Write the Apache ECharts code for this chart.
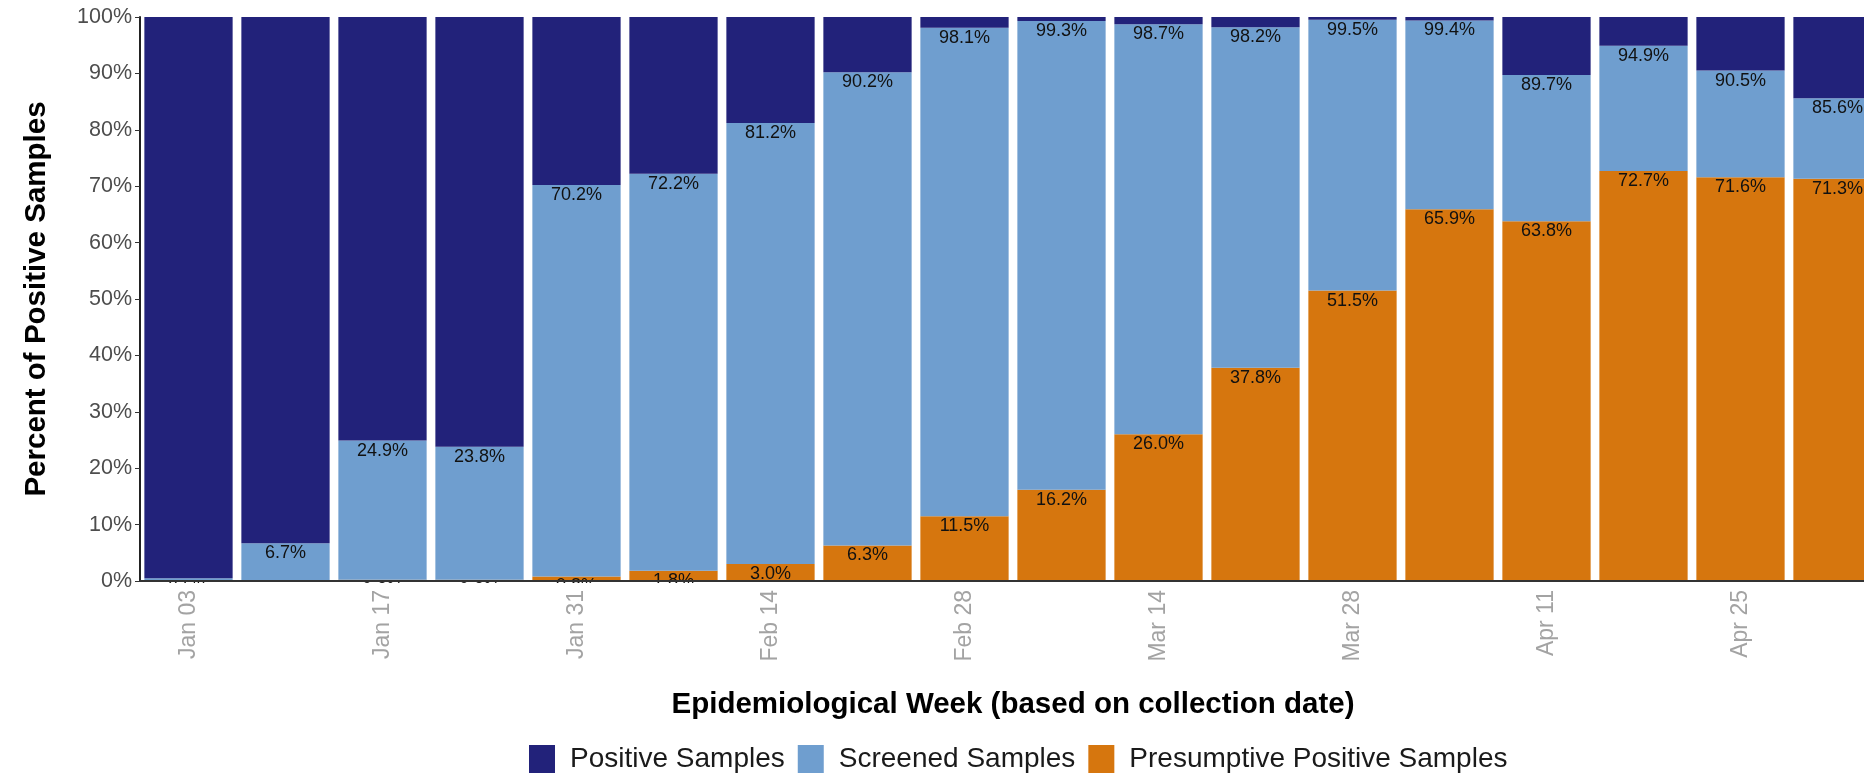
<!DOCTYPE html>
<html>
<head>
<meta charset="utf-8">
<script src="https://cdn.jsdelivr.net/npm/echarts@6/dist/echarts.min.js"></script>
<style>
  html, body { margin: 0; padding: 0; background: #fff; overflow: hidden; }
  /* a bit wider than the window: the last bar is cut off at the right edge in the original */
  #chart { width: 1890px; height: 776px; }
</style>
</head>
<body>
<div id="chart"></div>
<script>
// weekly categories (collection week)
const weeks = ['Jan 03', 'Jan 10', 'Jan 17', 'Jan 24', 'Jan 31', 'Feb 07', 'Feb 14', 'Feb 21', 'Feb 28',
  'Mar 07', 'Mar 14', 'Mar 21', 'Mar 28', 'Apr 04', 'Apr 11', 'Apr 18', 'Apr 25', 'May 02']
// % presumptive positive (bottom segment)
const presumptive = [0, 0, 0.2, 0.2, 0.8, 1.8, 3.0, 6.3, 11.5, 16.2, 26.0, 37.8, 51.5, 65.9, 63.8, 72.7, 71.6, 71.3]
// top of the screened segment = presumptive + screened (this is what the label shows)
const screenedTop = [0.5, 6.7, 24.9, 23.8, 70.2, 72.2, 81.2, 90.2, 98.1, 99.3, 98.7, 98.2, 99.5, 99.4, 89.7, 94.9, 90.5, 85.6]

const seriesNames = ['Positive Samples', 'Screened Samples', 'Presumptive Positive Samples']
const colors = { pos: '#22227a', scr: '#6f9ecf', pre: '#d6760e' }

const screened = screenedTop.map((t, i) => +(t - presumptive[i]).toFixed(1))
const positive = screenedTop.map(t => +(100 - t).toFixed(1))

const labelFont = { fontFamily: 'Liberation Sans, Arial, sans-serif' }
const barLabel = {
  show: true,
  position: 'insideTop',
  distance: 1,
  color: '#111',
  fontSize: 18,
  ...labelFont
}

const chart = echarts.init(document.getElementById('chart'), null, { renderer: 'canvas' })

chart.setOption({
  animation: false,
  textStyle: labelFont,
  grid: { left: 140, right: 4, top: 17, bottom: 195, containLabel: false },
  legend: {
    data: seriesNames,
    left: 524,
    top: 740,
    icon: 'rect',
    itemWidth: 26,
    itemHeight: 28,
    itemGap: 13,
    textStyle: { fontSize: 28, color: '#1a1a1a', padding: [0, 0, 0, 10], ...labelFont },
    z: 12
  },
  xAxis: {
    type: 'category',
    data: weeks,
    z: 10,
    name: 'Epidemiological Week (based on collection date)',
    nameLocation: 'middle',
    nameGap: 109,
    nameTextStyle: { fontSize: 29.5, fontWeight: 'bold', color: '#000', ...labelFont },
    axisLine: { lineStyle: { color: '#333', width: 2 } },
    axisTick: { alignWithLabel: true, interval: 0, length: 5, lineStyle: { color: '#333' } },
    axisLabel: { interval: 1, rotate: 90, color: '#a3a3a3', fontSize: 23, margin: 9, ...labelFont }
  },
  yAxis: {
    type: 'value',
    min: 0,
    max: 100,
    interval: 10,
    z: 10,
    name: 'Percent of Positive Samples',
    nameLocation: 'middle',
    nameGap: 88,
    nameTextStyle: { fontSize: 29.5, fontWeight: 'bold', color: '#000', ...labelFont },
    axisLine: { show: true, lineStyle: { color: '#222', width: 2 } },
    axisTick: { show: true, length: 5, lineStyle: { color: '#333' } },
    axisLabel: { formatter: '{value}%', color: '#4d4d4d', fontSize: 21.5, margin: 8, ...labelFont },
    splitLine: { show: false }
  },
  // white strip under the panel, so labels of tiny segments are clipped like the reference
  graphic: [{
    type: 'rect',
    left: 142,
    top: 583,
    z: 3,
    shape: { width: 1748, height: 30 },
    style: { fill: '#fff' }
  }],
  series: [
    {
      name: seriesNames[2],
      type: 'bar',
      stack: 'total',
      barCategoryGap: '9%',
      data: presumptive,
      itemStyle: { color: colors.pre },
      label: { ...barLabel, formatter: p => p.value > 0 ? p.value.toFixed(1) + '%' : '' }
    },
    {
      name: seriesNames[1],
      type: 'bar',
      stack: 'total',
      data: screened,
      itemStyle: { color: colors.scr },
      label: { ...barLabel, formatter: p => screenedTop[p.dataIndex].toFixed(1) + '%' }
    },
    {
      name: seriesNames[0],
      type: 'bar',
      stack: 'total',
      data: positive,
      itemStyle: { color: colors.pos }
    }
  ]
})
</script>
</body>
</html>
